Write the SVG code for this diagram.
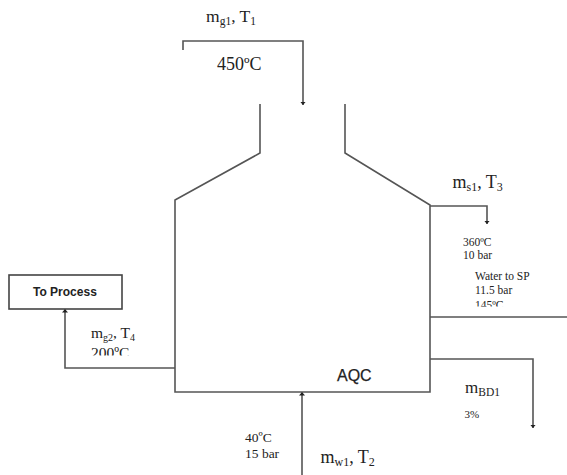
<svg xmlns="http://www.w3.org/2000/svg" width="567" height="475" viewBox="0 0 567 475">
<style>
.l{fill:none;stroke:#555;stroke-width:1.6}
.t{font-family:"Liberation Serif",serif;fill:#222}
.a{font-family:"Liberation Sans",sans-serif;fill:#222}
</style>
<defs>
<marker id="ah" markerWidth="4" markerHeight="6" refX="3.5" refY="3" orient="auto" markerUnits="userSpaceOnUse"><path d="M0 0L3.5 3L0 6Z" fill="#222"/></marker>
<clipPath id="c1"><rect x="470" y="260" width="90" height="46.5"/></clipPath>
<clipPath id="c2"><rect x="85" y="320" width="60" height="35.5"/></clipPath>
</defs>
<g id="connectors">
<path class="l" d="M183 50V41H303V105" marker-end="url(#ah)"/>
<path class="l" d="M430 206H487V224" marker-end="url(#ah)"/>
<path class="l" d="M430 317H567"/>
<path class="l" d="M430 359H533V428" marker-end="url(#ah)"/>
<path class="l" d="M302 475V392" marker-end="url(#ah)"/>
<path class="l" d="M175 368H65V309" marker-end="url(#ah)"/>
</g>
<g id="aqc">
<path class="l" d="M260 104V153L175 200V392H430V205L345 153V104"/>
<text class="a" x="337" y="381" font-size="16" stroke="#222" stroke-width="0.25">AQC</text>
</g>
<g id="to-process">
<rect x="9" y="275" width="113" height="34" fill="#fff" stroke="#444" stroke-width="1.6"/>
<text class="a" x="33" y="296" font-size="12" font-weight="bold">To Process</text>
</g>
<g id="labels">
<text class="t" x="206" y="22" font-size="17.5">m<tspan font-size="11.5" dy="3">g1</tspan><tspan dy="-3">, T</tspan><tspan font-size="11.5" dy="3">1</tspan></text>
<text class="t" x="217" y="70" font-size="18">450ºC</text>
<text class="t" x="452.5" y="188" font-size="18">m<tspan font-size="12" dy="3">s1</tspan><tspan dy="-3">, T</tspan><tspan font-size="12" dy="3">3</tspan></text>
<text class="t" x="463" y="246" font-size="11.5">360ºC</text>
<text class="t" x="463" y="259" font-size="11.5">10 bar</text>
<text class="t" x="475" y="280" font-size="11.5">Water to SP</text>
<text class="t" x="475" y="294" font-size="11.5">11.5 bar</text>
<g clip-path="url(#c1)"><text class="t" x="475" y="308.5" font-size="11.5">145ºC</text></g>
<text class="t" x="91" y="338" font-size="15.5">m<tspan font-size="10" dy="3">g2</tspan><tspan dy="-3">, T</tspan><tspan font-size="10" dy="3">4</tspan></text>
<g clip-path="url(#c2)"><text class="t" x="91" y="357.5" font-size="15.5">200ºC</text></g>
<text class="t" x="465" y="393" font-size="17">m<tspan font-size="11.5" dy="3">BD1</tspan></text>
<text class="t" x="464.5" y="418" font-size="11">3%</text>
<text class="t" x="245" y="442" font-size="13.5">40ºC</text>
<text class="t" x="245" y="458" font-size="13.5">15 bar</text>
<text class="t" x="320.5" y="463" font-size="18">m<tspan font-size="12" dy="3">w1</tspan><tspan dy="-3">, T</tspan><tspan font-size="12" dy="3">2</tspan></text>
</g>
</svg>
